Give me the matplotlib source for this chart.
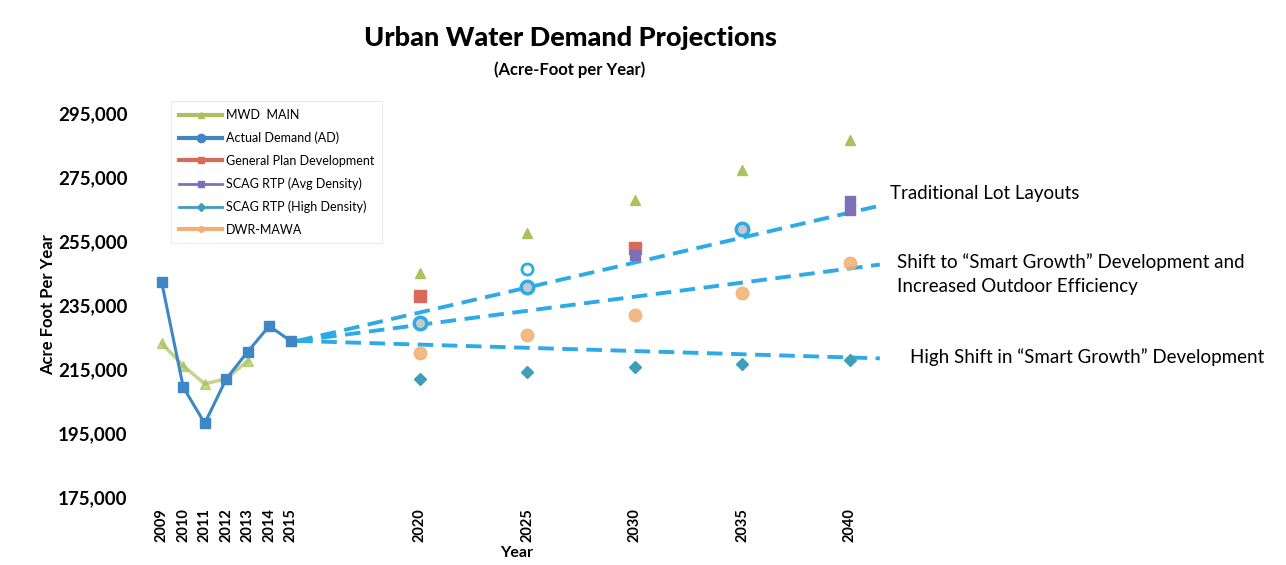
import matplotlib
matplotlib.use("Agg")
import matplotlib.pyplot as plt
from matplotlib.ticker import FuncFormatter
from matplotlib.lines import Line2D

plt.rcParams['font.family'] = ['Lato', 'DejaVu Sans']

# historical years and the projection years (axis has a gap after 2015)
hist_years = [2009, 2010, 2011, 2012, 2013, 2014, 2015]
proj_years = [2020, 2025, 2030, 2035, 2040]
tick_years = hist_years + proj_years

actual_demand = [242000, 209300, 198000, 211900, 220400, 228400, 223750]
mwd_main_hist = [223000, 216000, 210300, 212000, 217500]
mwd_main_proj = [245100, 257400, 267800, 277000, 286600]
general_plan_years = [2020, 2030]
general_plan = [237800, 252700]
scag_avg_years = [2030, 2040, 2040]
scag_avg = [250600, 267300, 264700]
scag_high = [211800, 214000, 215700, 216500, 217800]
dwr_mawa = [219900, 225600, 231900, 238700, 248000]
proj_circle_years = [2020, 2025, 2035]
proj_circles = [229500, 240700, 258700]

# scenario trend lines (start at 2015 actual, end at right edge)
trend_end_year = 2041.4
trend_ends = [266000, 247600, 218300]
trend_labels = ["Traditional Lot Layouts",
                "Shift to \u201cSmart Growth\u201d Development and\nIncreased Outdoor Efficiency",
                "High Shift in \u201cSmart Growth\u201d Development"]


def pos(year):
    # compress axis: one blank slot between 2015 and 2020
    return year - 2009 if year <= 2015 else year - 2008


fig = plt.figure(figsize=(12.86, 5.65), dpi=100)
ax = fig.add_axes([151 / 1286, 1 - 497 / 565, (882 - 151) / 1286, (497 - 100) / 565])

c_green = '#a9c25f'
c_blue = '#3d87c6'
c_red = '#d9695a'
c_purple = '#7d70b8'
c_teal = '#3f9fb8'
c_orange = '#f0b070'
c_trend = '#2eaae6'

# trend lines
for end in trend_ends:
    ax.plot([pos(2015) + 0.3, pos(trend_end_year)], [actual_demand[-1], end],
            color=c_trend, lw=2.8, ls=(0, (4, 2.2)), zorder=2)

# MWD MAIN
ax.plot([pos(y) for y in hist_years[:5]], mwd_main_hist, color=c_green, lw=2.5,
        marker='^', ms=7, alpha=0.7, zorder=3)
ax.plot([pos(y) for y in proj_years], mwd_main_proj, ls='none', color=c_green,
        marker='^', ms=7, zorder=3)

# Actual demand
ax.plot([pos(y) for y in hist_years], actual_demand, color=c_blue, lw=2.2,
        marker='s', ms=7, zorder=4)
ax.plot([pos(y) for y in proj_circle_years], proj_circles, ls='none', marker='o',
        ms=9, mfc='#c9c9c9', mec=c_trend, mew=2.5, zorder=4)
ax.plot([pos(2025)], [246200], ls='none', marker='o', ms=8, mfc='white',
        mec=c_trend, mew=2, zorder=4)

# General plan
ax.plot([pos(y) for y in general_plan_years], general_plan, ls='none', marker='s',
        ms=8, color=c_red, zorder=5)
# SCAG avg
ax.plot([pos(y) for y in scag_avg_years], scag_avg, ls='none', marker='s',
        ms=7, color=c_purple, zorder=5)
# SCAG high
ax.plot([pos(y) for y in proj_years], scag_high, ls='none', marker='D',
        ms=6, color=c_teal, zorder=5)
# DWR-MAWA
ax.plot([pos(y) for y in proj_years], dwr_mawa, ls='none', marker='o',
        ms=9, color=c_orange, alpha=0.85, zorder=5)

ax.set_xlim(-0.5, 33.5)
ax.set_ylim(175000, 299000)
ax.set_yticks(range(175000, 295001, 20000))
ax.yaxis.set_major_formatter(FuncFormatter(lambda v, p: f"{int(v):,}"))
ax.set_xticks([pos(y) for y in tick_years])
ax.set_xticklabels([str(y) for y in tick_years], rotation=90, fontweight='bold',
                   fontsize=10.5)
for lbl in ax.get_yticklabels():
    lbl.set_fontweight('bold')
    lbl.set_fontsize(13.5)
ax.tick_params(axis='x', length=0, pad=8)
ax.tick_params(axis='y', length=0, pad=17)
for s in ax.spines.values():
    s.set_visible(False)

# legend with line+marker handles like the Excel one
handles = [
    Line2D([], [], color=c_green, lw=3, marker='^', ms=5),
    Line2D([], [], color=c_blue, lw=3, marker='o', ms=6),
    Line2D([], [], color=c_red, lw=3, marker='s', ms=5),
    Line2D([], [], color=c_purple, lw=2, marker='s', ms=5),
    Line2D([], [], color=c_teal, lw=2, marker='D', ms=4),
    Line2D([], [], color=c_orange, lw=3, marker='o', ms=4),
]
labels = ['MWD  MAIN', 'Actual Demand (AD)', 'General Plan Development',
          'SCAG RTP (Avg Density)', 'SCAG RTP (High Density)', 'DWR-MAWA']
leg = ax.legend(handles, labels, loc='upper left', bbox_to_anchor=(0.019, 1.012),
                fontsize=9, frameon=True, fancybox=False, edgecolor='#e6e6e6',
                handlelength=3.5, handletextpad=0.3, labelspacing=0.85,
                borderpad=0.6)
leg.get_frame().set_linewidth(0.8)

ax.set_ylabel('Acre Foot Per Year', fontweight='bold', fontsize=12)
ax.yaxis.set_label_coords((56 - 151) / 731, (497 - 305) / 397)
ax.set_xlabel('Year', fontweight='bold', fontsize=11.5, labelpad=3)

fig.text(570 / 1286, 1 - 38 / 565, 'Urban Water Demand Projections', ha='center',
         va='center', fontsize=19.5, fontweight='black')
fig.text(570 / 1286, 1 - 70 / 565, '(Acre-Foot per Year)', ha='center',
         va='center', fontsize=12, fontweight='bold')

label_xy = [(890, 193), (897, 274), (910, 357)]
for (x, y), t in zip(label_xy, trend_labels):
    fig.text(x / 1286, 1 - y / 565, t, ha='left', va='center', fontsize=13.5,
             linespacing=1.55)

fig.savefig('out.png', dpi=100)
